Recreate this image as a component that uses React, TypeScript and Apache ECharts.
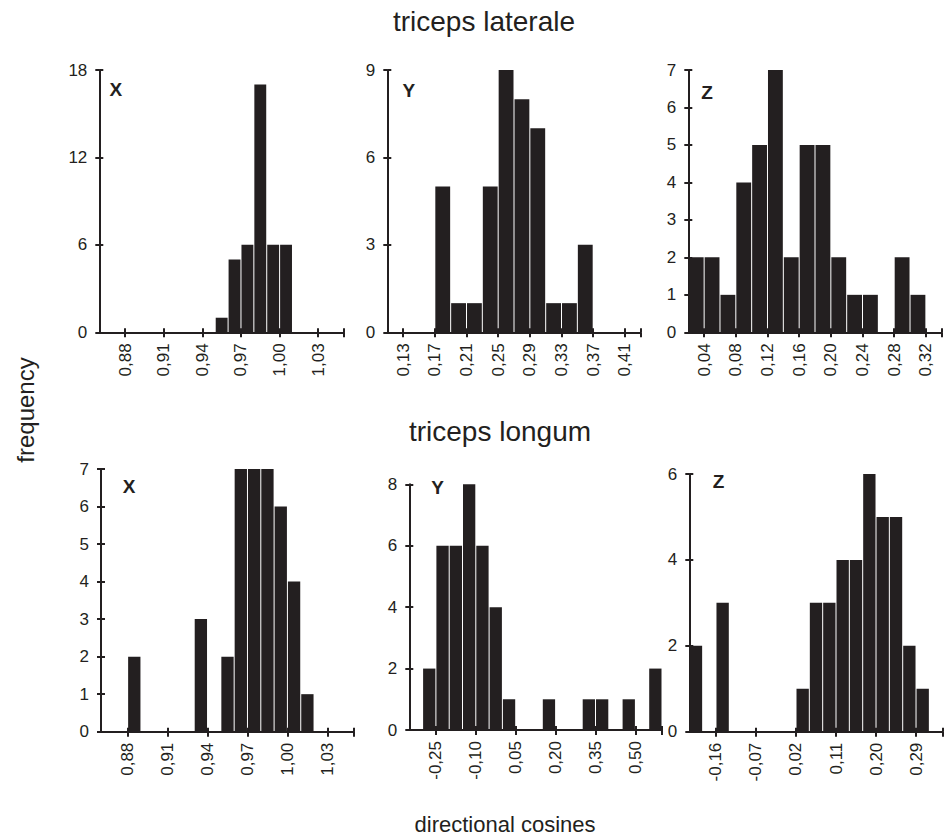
import React, { useEffect, useRef } from "react";
import * as echarts from "echarts";

// ---------------- data ----------------
// triceps laterale
const latXBins = [0.95, 0.96, 0.97, 0.98, 0.99, 1.0];
const latXCounts = [1, 5, 6, 17, 6, 6];
const latXTicks = [0.88, 0.91, 0.94, 0.97, 1.0, 1.03];

const latYBins = [0.17, 0.19, 0.21, 0.23, 0.25, 0.27, 0.29, 0.31, 0.33, 0.35];
const latYCounts = [5, 1, 1, 5, 9, 8, 7, 1, 1, 3];
const latYTicks = [0.13, 0.17, 0.21, 0.25, 0.29, 0.33, 0.37, 0.41];

const latZBins = [0.02, 0.04, 0.06, 0.08, 0.1, 0.12, 0.14, 0.16, 0.18, 0.2, 0.22, 0.24, 0.26, 0.28, 0.3];
const latZCounts = [2, 2, 1, 4, 5, 7, 2, 5, 5, 2, 1, 1, 0, 2, 1];
const latZTicks = [0.04, 0.08, 0.12, 0.16, 0.2, 0.24, 0.28, 0.32];

// triceps longum
const lonXBins = [0.88, 0.93, 0.95, 0.96, 0.97, 0.98, 0.99, 1.0, 1.01];
const lonXCounts = [2, 3, 2, 7, 7, 7, 6, 4, 1];
const lonXTicks = [0.88, 0.91, 0.94, 0.97, 1.0, 1.03];

const lonYBins = [-0.3, -0.25, -0.2, -0.15, -0.1, -0.05, 0.0, 0.15, 0.3, 0.35, 0.45, 0.55];
const lonYCounts = [2, 6, 6, 8, 6, 4, 1, 1, 1, 1, 1, 2];
const lonYTicks = [-0.25, -0.1, 0.05, 0.2, 0.35, 0.5];

const lonZBins = [-0.22, -0.16, 0.02, 0.05, 0.08, 0.11, 0.14, 0.17, 0.2, 0.23, 0.26, 0.29];
const lonZCounts = [2, 3, 1, 3, 3, 4, 4, 6, 5, 5, 2, 1];
const lonZTicks = [-0.16, -0.07, 0.02, 0.11, 0.2, 0.29];

const panelLetters = ["X", "Y", "Z", "X", "Y", "Z"];
const binWidths = [0.01, 0.02, 0.02, 0.01, 0.05, 0.03];
const xRanges = [
  [0.86, 1.05],
  [0.11, 0.43],
  [0.02, 0.34],
  [0.86, 1.05],
  [-0.35, 0.6],
  [-0.22, 0.35],
];
const yMaxes = [18, 9, 7, 7, 8, 6];
const yIntervals = [6, 3, 1, 1, 2, 2];

const titleTop = "triceps laterale";
const titleBottom = "triceps longum";
const yAxisTitle = "frequency";
const xAxisTitle = "directional cosines";

// ---------------- layout ----------------
const INK = "#231f20";
const FONT = '"Liberation Sans", Arial, Helvetica, sans-serif';

const gridBoxes = [
  { left: 99.3, right: 344, top: 70, bottom: 332.3 },
  { left: 387.3, right: 640.7, top: 70, bottom: 332.3 },
  { left: 688.3, right: 941.7, top: 70, bottom: 332.3 },
  { left: 101, right: 354, top: 469, bottom: 731.7 },
  { left: 409.3, right: 662, top: 484.3, bottom: 730 },
  { left: 689.3, right: 942.7, top: 474, bottom: 731.7 },
];
const letterPos = [
  [109.5, 89.5],
  [402.5, 90.3],
  [701.2, 92],
  [122.8, 486.7],
  [431.2, 487.8],
  [712.8, 481.7],
];

const fmt = (v: number) => v.toFixed(2).replace(".", ",");

function buildOption() {
  const binsAll = [latXBins, latYBins, latZBins, lonXBins, lonYBins, lonZBins];
  const countsAll = [latXCounts, latYCounts, latZCounts, lonXCounts, lonYCounts, lonZCounts];
  const ticksAll = [latXTicks, latYTicks, latZTicks, lonXTicks, lonYTicks, lonZTicks];

  const grids: any[] = [];
  const xAxes: any[] = [];
  const yAxes: any[] = [];
  const series: any[] = [];
  const lineStyle = { color: INK, width: 2 };

  for (let i = 0; i < 6; i++) {
    const g = gridBoxes[i];
    grids.push({
      left: g.left,
      top: g.top,
      width: g.right - g.left,
      height: g.bottom - g.top,
      containLabel: false,
      outerBoundsMode: "none",
    });
    const [xmin, xmax] = xRanges[i];
    const tickVals = [...ticksAll[i], xmax];
    xAxes.push({
      type: "value",
      gridIndex: i,
      min: xmin,
      max: xmax,
      position: "bottom",
      axisLine: { show: true, onZero: false, lineStyle },
      axisTick: { show: true, inside: false, length: 5, lineStyle, customValues: tickVals },
      axisLabel: {
        show: true,
        rotate: 90,
        margin: 11,
        fontSize: 17,
        color: INK,
        fontFamily: FONT,
        formatter: (v: number) => fmt(v),
        customValues: ticksAll[i],
      },
      splitLine: { show: false },
    });
    xAxes.push({
      type: "value",
      gridIndex: i,
      min: xmin,
      max: xmax,
      position: "bottom",
      axisLine: { show: false, onZero: false },
      axisTick: { show: true, inside: true, length: 4, lineStyle, customValues: tickVals },
      axisLabel: { show: false },
      splitLine: { show: false },
    });
    yAxes.push({
      type: "value",
      gridIndex: i,
      min: 0,
      max: yMaxes[i],
      interval: yIntervals[i],
      position: "left",
      axisLine: { show: true, onZero: false, lineStyle },
      axisTick: { show: true, inside: false, length: 4, lineStyle },
      axisLabel: { show: true, margin: 12, fontSize: 17, color: INK, fontFamily: FONT },
      splitLine: { show: false },
    });
    yAxes.push({
      type: "value",
      gridIndex: i,
      min: 0,
      max: yMaxes[i],
      interval: yIntervals[i],
      position: "left",
      axisLine: { show: false, onZero: false },
      axisTick: { show: true, inside: true, length: 4, lineStyle },
      axisLabel: { show: false },
      splitLine: { show: false },
    });

    const w = binWidths[i];
    const data = binsAll[i].map((b, k) => [b, +(b + w).toFixed(4), countsAll[i][k]]);
    series.push({
      type: "custom",
      xAxisIndex: 2 * i,
      yAxisIndex: 2 * i,
      encode: { x: [0, 1], y: 2 },
      data,
      z: 3,
      renderItem: (params: any, api: any) => {
        const x0 = api.value(0);
        const x1 = api.value(1);
        const c = api.value(2);
        if (!c) return null;
        const p0 = api.coord([x0, c]);
        const p1 = api.coord([x1, 0]);
        return {
          type: "rect",
          shape: { x: p0[0] + 0.5, y: p0[1], width: p1[0] - p0[0] - 1, height: p1[1] - p0[1] },
          style: { fill: INK },
        };
      },
    });
  }

  const graphic: any[] = [
    {
      type: "text",
      x: 484,
      y: 21,
      style: { text: titleTop, fontSize: 28, fontFamily: FONT, fill: INK, align: "center", verticalAlign: "middle" },
    },
    {
      type: "text",
      x: 500,
      y: 431,
      style: { text: titleBottom, fontSize: 28, fontFamily: FONT, fill: INK, align: "center", verticalAlign: "middle" },
    },
    {
      type: "text",
      x: 505,
      y: 824,
      style: { text: xAxisTitle, fontSize: 22, fontFamily: FONT, fill: INK, align: "center", verticalAlign: "middle" },
    },
    {
      type: "text",
      x: 25,
      y: 410,
      rotation: Math.PI / 2,
      style: { text: yAxisTitle, fontSize: 24, fontFamily: FONT, fill: INK, align: "center", verticalAlign: "middle" },
    },
  ];
  panelLetters.forEach((t, i) => {
    graphic.push({
      type: "text",
      x: letterPos[i][0],
      y: letterPos[i][1],
      style: { text: t, fontSize: 19, fontWeight: "bold", fontFamily: FONT, fill: INK, align: "left", verticalAlign: "middle" },
    });
  });

  return {
    animation: false,
    backgroundColor: "#ffffff",
    grid: grids,
    xAxis: xAxes,
    yAxis: yAxes,
    series,
    graphic,
  };
}

export default function App() {
  const ref = useRef<HTMLDivElement>(null);
  useEffect(() => {
    if (!ref.current) return;
    const chart = echarts.init(ref.current, null, { renderer: "svg" });
    chart.setOption(buildOption());
    return () => chart.dispose();
  }, []);
  return <div ref={ref} style={{ position: "absolute", left: 0, top: 0, width: 948, height: 839 }} />;
}
